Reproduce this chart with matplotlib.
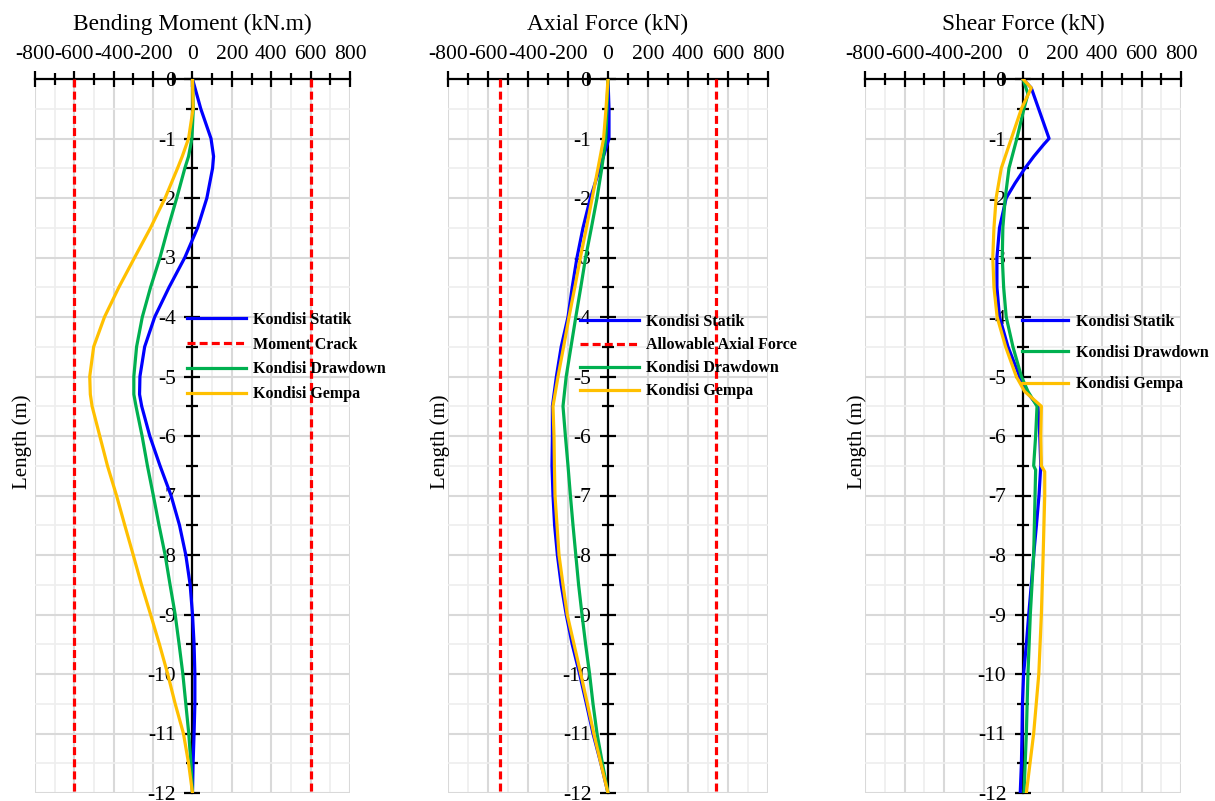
import numpy as np
import matplotlib
matplotlib.use("Agg")
import matplotlib.pyplot as plt
from matplotlib.ticker import MultipleLocator

plt.rcParams['font.family'] = ['Liberation Serif', 'DejaVu Serif']
plt.rcParams['axes.unicode_minus'] = False

BLUE = '#0000FF'
GREEN = '#00B050'
YELLOW = '#FFC000'
RED = '#FF0000'

# ---- Bending moment (kN.m) ----
bm_depth = [0, -0.5, -1, -1.3, -1.5, -2, -2.5, -3, -3.5, -4, -4.5, -5, -5.3, -5.5,
            -6, -6.5, -7, -7.5, -8, -8.5, -9, -9.5, -10, -10.5, -11, -11.5, -12]
bm_statik = [0, 42, 94, 107, 102, 73, 26, -39, -119, -192, -243, -267, -269, -258,
             -217, -165, -109, -66, -34, -12, 0, 8, 12, 12, 8, 3, 0]
bm_drawdown = [0, 4, -3, -20, -39, -80, -124, -165, -213, -255, -284, -298, -298, -287,
               -256, -229, -199, -170, -139, -114, -88, -68, -49, -34, -19, -8, 0]
bm_gempa = [0, 3, -20, -52, -76, -139, -213, -294, -374, -447, -502, -522, -519, -510,
            -471, -432, -386, -344, -301, -259, -213, -168, -126, -88, -46, -20, 0]
moment_crack = 600

# ---- Axial force (kN) ----
af_depth = [0, -0.5, -1, -1.5, -2, -2.5, -3, -3.5, -4, -4.5, -5, -5.5,
            -6, -6.5, -7, -7.5, -8, -8.5, -9, -9.5, -10, -10.5, -11, -11.5, -12]
af_statik = [0, 5, 5, -41, -88, -125, -155, -179, -200, -234, -258, -278,
             -278, -280, -275, -267, -253, -234, -209, -179, -142, -108, -75, -36, 0]
af_drawdown = [0, -5, -11, -31, -55, -83, -112, -136, -161, -185, -209, -225,
               -213, -200, -188, -175, -161, -147, -130, -112, -92, -75, -55, -28, 0]
af_gempa = [0, -10, -22, -50, -79, -108, -138, -166, -195, -222, -250, -275,
            -270, -268, -265, -255, -245, -225, -204, -170, -136, -103, -71, -36, 0]
allowable_axial = 540

# ---- Shear force (kN) ----
sh_statik_depth = [0, -0.15, -1, -1.1, -1.3, -1.5, -1.75, -2, -2.5, -3, -3.5, -4, -4.5, -5,
                   -5.25, -5.5, -6, -6.5, -7, -7.5, -8, -8.5, -9, -9.5, -10, -10.5, -11, -11.5, -12]
sh_statik = [0, 42, 132, 105, 55, 10, -40, -85, -119, -132, -132, -119, -76, -17,
             17, 76, 85, 90, 81, 68, 54, 42, 29, 17, 3, -3, -5, -8, -14]
sh_drawdown_depth = [0, -0.25, -0.5, -1, -1.5, -2, -2.5, -3, -3.5, -4, -4.5, -5, -5.25, -5.5,
                     -6, -6.5, -6.57, -7, -8, -9, -10, -11, -12]
sh_drawdown = [0, 25, 5, -31, -71, -90, -102, -105, -98, -85, -51, -8, 25, 71,
               64, 54, 64, 61, 54, 37, 25, 17, 5]
sh_gempa_depth = [0, -0.15, -0.5, -1, -1.5, -2, -2.5, -3, -3.5, -4, -4.5, -5, -5.25, -5.5,
                  -6, -6.5, -6.6, -7, -8, -9, -10, -11, -12]
sh_gempa = [0, 42, -8, -59, -110, -136, -147, -153, -147, -131, -88, -34, 8, 93,
            90, 93, 110, 110, 102, 93, 80, 54, 17]

fig = plt.figure(figsize=(12.15, 8.01), dpi=100)

W, H = 1215.0, 801.0
panels = [(35, 315), (448, 320), (865, 316)]  # left px, width px
top_px, bot_px = 79, 793


def setup(ax, title):
    ax.set_xlim(-800, 800)
    ax.set_ylim(-12, 0)
    ax.xaxis.set_major_locator(MultipleLocator(200))
    ax.xaxis.set_minor_locator(MultipleLocator(100))
    ax.yaxis.set_major_locator(MultipleLocator(1))
    ax.yaxis.set_minor_locator(MultipleLocator(0.5))
    ax.grid(True, which='major', color='#d9d9d9', lw=1.5, zorder=0)
    ax.grid(True, which='minor', color='#eeeeee', lw=1.2, zorder=0)
    ax.set_axisbelow(True)
    ax.spines['left'].set_position(('data', 0.0))
    ax.spines['right'].set_color('none')
    ax.spines['bottom'].set_color('none')
    for s in ('left', 'top'):
        ax.spines[s].set_linewidth(1.6)
        ax.spines[s].set_zorder(2.5)
    ax.xaxis.set_ticks_position('top')
    ax.yaxis.set_ticks_position('left')
    ax.tick_params(which='major', direction='inout', length=12, width=1.6, labelsize=15.5)
    ax.tick_params(which='minor', direction='inout', length=8, width=1.6)
    ax.tick_params(axis='x', which='major', pad=5)
    ax.tick_params(axis='y', which='major', pad=6)
    ax.xaxis.set_major_formatter(plt.FuncFormatter(lambda v, p: '%d' % v))
    ax.yaxis.set_major_formatter(plt.FuncFormatter(lambda v, p: '%d' % v))
    ax.text(0.5, 1.077, title, transform=ax.transAxes, ha='center', va='center', fontsize=16.8)


axes = []
for left, width in panels:
    ax = fig.add_axes([left / W, (H - bot_px) / H, width / W, (bot_px - top_px) / H])
    axes.append(ax)

lw = 2.3
leg_font = {'family': 'Liberation Serif', 'weight': 'bold', 'size': 11.5}

# Bending moment
ax = axes[0]
setup(ax, 'Bending Moment (kN.m)')
ax.plot(bm_statik, bm_depth, color=BLUE, lw=lw, label='Kondisi Statik', zorder=3)
ax.plot([-moment_crack, -moment_crack], [0, -12], color=RED, lw=lw, ls=(0, (2.5, 1.3)),
        label='Moment Crack', zorder=3)
ax.plot([moment_crack, moment_crack], [0, -12], color=RED, lw=lw, ls=(0, (2.5, 1.3)), zorder=3)
ax.plot(bm_drawdown, bm_depth, color=GREEN, lw=lw, label='Kondisi Drawdown', zorder=3)
ax.plot(bm_gempa, bm_depth, color=YELLOW, lw=lw, label='Kondisi Gempa', zorder=3)
ax.legend(loc='upper left', bbox_to_anchor=(0.4825, 0.674), frameon=False, prop=leg_font,
          borderpad=0, borderaxespad=0, handlelength=3.7, handletextpad=0.45, labelspacing=0.55)

# Axial force
ax = axes[1]
setup(ax, 'Axial Force (kN)')
ax.plot(af_statik, af_depth, color=BLUE, lw=lw, label='Kondisi Statik', zorder=3)
ax.plot([-allowable_axial, -allowable_axial], [0, -12], color=RED, lw=lw, ls=(0, (2.5, 1.3)),
        label='Allowable Axial Force', zorder=3)
ax.plot([allowable_axial, allowable_axial], [0, -12], color=RED, lw=lw, ls=(0, (2.5, 1.3)), zorder=3)
ax.plot(af_drawdown, af_depth, color=GREEN, lw=lw, label='Kondisi Drawdown', zorder=3)
ax.plot(af_gempa, af_depth, color=YELLOW, lw=lw, label='Kondisi Gempa', zorder=3)
ax.legend(loc='upper left', bbox_to_anchor=(0.4125, 0.671), frameon=False, prop=leg_font,
          borderpad=0, borderaxespad=0, handlelength=3.7, handletextpad=0.45, labelspacing=0.45)

# Shear force
ax = axes[2]
setup(ax, 'Shear Force (kN)')
ax.plot(sh_statik, sh_statik_depth, color=BLUE, lw=lw, label='Kondisi Statik', zorder=3)
ax.plot(sh_drawdown, sh_drawdown_depth, color=GREEN, lw=lw, label='Kondisi Drawdown', zorder=3)
ax.plot(sh_gempa, sh_gempa_depth, color=YELLOW, lw=lw, label='Kondisi Gempa', zorder=3)
ax.legend(loc='upper left', bbox_to_anchor=(0.497, 0.671), frameon=False, prop=leg_font,
          borderpad=0, borderaxespad=0, handlelength=2.9, handletextpad=0.45, labelspacing=0.95)

for xpx in (22, 440, 857):
    fig.text(xpx / W, (H - 442) / H, 'Length (m)', rotation=90, ha='center', va='center', fontsize=15)

fig.savefig('out.png', dpi=100)
